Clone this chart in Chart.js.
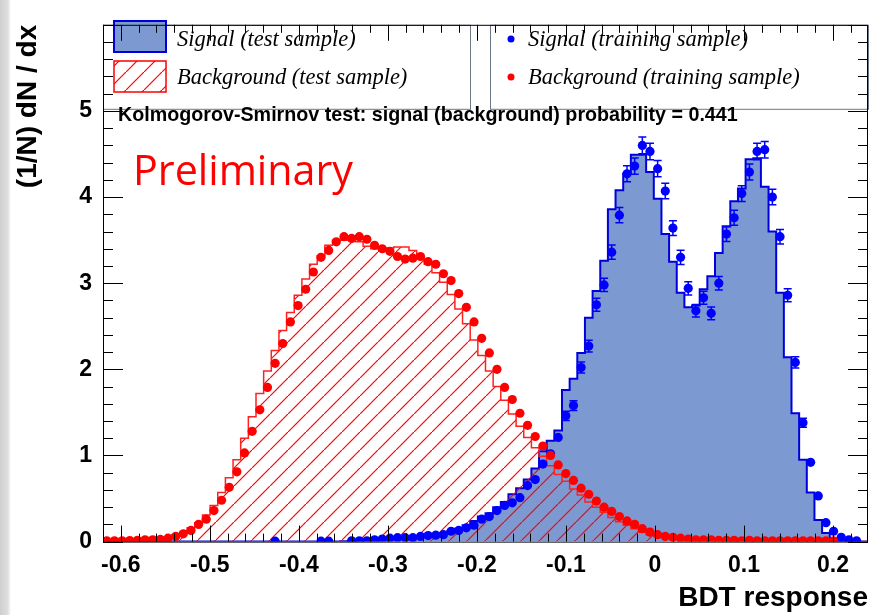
<!DOCTYPE html>
<html>
<head>
<meta charset="utf-8">
<script src="https://cdn.jsdelivr.net/npm/chart.js@4.4.0/dist/chart.umd.min.js"></script>
<style>
  html, body { margin: 0; padding: 0; background: #fff; }
  #wrap { width: 875px; height: 615px; }
</style>
</head>
<body>
<div id="wrap"><canvas id="myChart" width="875" height="615"></canvas></div>
<script>
// histogram range and binning (TMVA BDT output)
var xMin = -0.62;
var xMax = 0.2393;
var nBins = 100;

var xTickValues = [-0.6, -0.5, -0.4, -0.3, -0.2, -0.1, 0, 0.1, 0.2];
var xTickLabels = ["-0.6", "-0.5", "-0.4", "-0.3", "-0.2", "-0.1", "0", "0.1", "0.2"];
var yTickValues = [0, 1, 2, 3, 4, 5];
var yTickLabels = ["0", "1", "2", "3", "4", "5"];

// signal, test sample (filled histogram)
var sigTest = [
  0, 0, 0, 0, 0, 0, 0, 0, 0, 0,
  0, 0, 0, 0, 0, 0, 0, 0, 0, 0,
  0, 0, 0, 0, 0, 0, 0, 0, 0, 0,
  0, 0, 0.005, 0.01, 0.015, 0.02, 0.025, 0.03, 0.04, 0.045,
  0.05, 0.06, 0.065, 0.07, 0.08, 0.10, 0.12, 0.15, 0.19, 0.24,
  0.29, 0.33, 0.40, 0.46, 0.55, 0.62, 0.72, 0.85, 1.05, 1.17,
  1.29, 1.76, 1.89, 2.19, 2.60, 2.91, 3.26, 3.86, 4.08, 4.27,
  4.49, 4.49, 4.29, 3.98, 3.57, 3.25, 2.89, 2.72, 2.74, 2.93,
  3.08, 3.35, 3.66, 3.95, 4.10, 4.44, 4.45, 4.12, 3.60, 2.89,
  2.14, 1.49, 0.95, 0.57, 0.25, 0.10, 0.04, 0.01, 0, 0
];

// signal, training sample (points)
var sigTrain = [
  null, null, null, null, null, null, null, null, null, null,
  null, null, null, null, null, null, null, null, null, null,
  null, null, 0.005, null, null, null, null, null, 0.005, 0.005,
  null, null, 0.01, 0.01, 0.01, 0.02, 0.03, 0.04, 0.045, 0.045,
  0.045, 0.06, 0.07, 0.075, 0.08, 0.12, 0.13, 0.16, 0.19, 0.26,
  0.29, 0.36, 0.42, 0.45, 0.51, 0.65, 0.72, 0.90, 1.02, 1.21,
  1.46, 1.58, 2.02, 2.27, 2.75, 2.98, 3.36, 3.79, 4.27, 4.36,
  4.60, 4.53, 4.33, 4.07, 3.64, 3.30, 2.94, 2.68, 2.83, 2.65,
  3.00, 3.57, 3.76, 4.04, 4.29, 4.53, 4.55, 4.00, 3.54, 2.86,
  2.08, 1.38, 0.92, 0.53, 0.22, 0.12, 0.05, 0.02, 0.01, null
];

// background, test sample (hatched histogram)
var bkgTest = [
  0.01, 0.01, 0.01, 0.012, 0.015, 0.02, 0.02, 0.025, 0.035, 0.05,
  0.08, 0.11, 0.16, 0.22, 0.31, 0.42, 0.57, 0.74, 0.95, 1.20,
  1.45, 1.72, 1.98, 2.22, 2.45, 2.66, 2.86, 3.05, 3.22, 3.32,
  3.44, 3.50, 3.50, 3.50, 3.48, 3.43, 3.40, 3.39, 3.41, 3.42,
  3.42, 3.38, 3.30, 3.22, 3.12, 3.01, 2.87, 2.70, 2.53, 2.34,
  2.16, 1.98, 1.80, 1.64, 1.48, 1.34, 1.21, 1.09, 0.99, 0.88,
  0.78, 0.70, 0.61, 0.54, 0.46, 0.40, 0.34, 0.28, 0.23, 0.19,
  0.15, 0.11, 0.08, 0.06, 0.05, 0.04, 0.03, 0.02, 0.02, 0.02,
  0.015, 0.015, 0.015, 0.01, 0.015, 0.01, 0.01, 0.01, 0.01, 0.01,
  0.01, 0.01, 0.01, 0.01, 0.01, 0.01, 0, 0, 0, 0
];

// background, training sample (points)
var bkgTrain = [
  0.01, 0.01, 0.01, 0.012, 0.015, 0.02, 0.02, 0.025, 0.04, 0.06,
  0.09, 0.13, 0.20, 0.26, 0.36, 0.48, 0.63, 0.81, 1.03, 1.28,
  1.53, 1.79, 2.07, 2.30, 2.55, 2.74, 2.93, 3.13, 3.30, 3.38,
  3.48, 3.54, 3.52, 3.54, 3.51, 3.44, 3.40, 3.37, 3.31, 3.28,
  3.29, 3.31, 3.25, 3.22, 3.11, 3.03, 2.88, 2.72, 2.55, 2.36,
  2.19, 2.00, 1.79, 1.65, 1.49, 1.35, 1.22, 1.11, 1.00, 0.89,
  0.79, 0.71, 0.62, 0.55, 0.47, 0.40, 0.35, 0.29, 0.24, 0.20,
  0.15, 0.11, 0.08, 0.06, 0.05, 0.04, 0.03, 0.02, 0.02, 0.02,
  0.015, 0.015, 0.015, 0.01, 0.015, 0.01, 0.01, 0.01, 0.01, 0.01,
  0.01, 0.01, 0.01, 0.01, 0.01, 0.01, null, null, null, null
];

var binW = (xMax - xMin) / nBins;

// outline of a histogram: points at the bin low edges, drawn with stepped lines
function histLine(vals) {
  var pts = [{ x: xMin, y: 0 }];
  for (var i = 0; i < vals.length; i++) {
    pts.push({ x: xMin + i * binW, y: vals[i] });
  }
  pts.push({ x: xMax, y: vals[vals.length - 1] });
  pts.push({ x: xMax, y: 0 });
  return pts;
}

function binPoints(vals) {
  var pts = [];
  for (var i = 0; i < vals.length; i++) {
    if (vals[i] !== null) pts.push({ x: xMin + (i + 0.5) * binW, y: vals[i] });
  }
  return pts;
}

function hatchPattern() {
  var c = document.createElement("canvas");
  c.width = 18;
  c.height = 18;
  var g = c.getContext("2d");
  g.strokeStyle = "#ff0000";
  g.lineWidth = 1.2;
  g.beginPath();
  g.moveTo(-2, 20); g.lineTo(20, -2);
  g.stroke();
  return g.createPattern(c, "repeat");
}

var hatch = hatchPattern();
var sigFill = "#7d99d1";
var sigLine = "#0000dd";

var rootStyle = {
  id: "rootStyle",
  beforeDraw: function (chart) {
    var ctx = chart.ctx;
    ctx.save();
    ctx.fillStyle = "#ffffff";
    ctx.fillRect(0, 0, chart.width, chart.height);
    // grey slide background showing at the left edge
    var grd = ctx.createLinearGradient(0, 0, 11, 0);
    grd.addColorStop(0, "#cfcfcf");
    grd.addColorStop(0.7, "#dedede");
    grd.addColorStop(1, "#ffffff");
    ctx.fillStyle = grd;
    ctx.fillRect(0, 0, 11, chart.height);
    ctx.restore();
  },
  afterDatasetsDraw: function (chart) {
    // statistical error bars on the signal training points
    var ctx = chart.ctx;
    var ys = chart.scales.y;
    var meta = chart.getDatasetMeta(1);
    ctx.save();
    ctx.strokeStyle = "#0000ff";
    ctx.lineWidth = 1.5;
    meta.data.forEach(function (pt, k) {
      var v = chart.data.datasets[1].data[k].y;
      var e = 0.045 * Math.sqrt(v);
      var yHi = ys.getPixelForValue(v + e);
      var yLo = ys.getPixelForValue(v - e);
      if (yLo - yHi < 9) return;
      ctx.beginPath();
      ctx.moveTo(pt.x, yHi); ctx.lineTo(pt.x, yLo);
      ctx.moveTo(pt.x - 4, yHi); ctx.lineTo(pt.x + 4, yHi);
      ctx.moveTo(pt.x - 4, yLo); ctx.lineTo(pt.x + 4, yLo);
      ctx.stroke();
    });
    ctx.restore();
  },
  afterDraw: function (chart) {
    var ctx = chart.ctx;
    var a = chart.chartArea;
    var xs = chart.scales.x;
    var ys = chart.scales.y;
    ctx.save();

    // legend boxes
    ctx.fillStyle = "#ffffff";
    ctx.strokeStyle = "#6c7886";
    ctx.lineWidth = 1;
    ctx.fillRect(a.left, a.top, 367, 84);
    ctx.strokeRect(a.left + 0.5, a.top + 0.5, 367, 84);
    ctx.fillRect(490, a.top, a.right - 490, 84);
    ctx.strokeRect(490.5, a.top + 0.5, a.right - 490, 84);

    ctx.fillStyle = sigFill;
    ctx.fillRect(114, 21, 52, 31);
    ctx.strokeStyle = sigLine;
    ctx.lineWidth = 2;
    ctx.strokeRect(114, 21, 52, 31);
    ctx.fillStyle = hatch;
    ctx.fillRect(114, 61, 52, 31);
    ctx.strokeStyle = "#ff0000";
    ctx.lineWidth = 1.5;
    ctx.strokeRect(114, 61, 52, 31);

    ctx.fillStyle = "#000000";
    ctx.font = "italic 22.5px 'Liberation Serif'";
    ctx.textBaseline = "alphabetic";
    ctx.textAlign = "left";
    ctx.fillText("Signal (test sample)", 177, 46, 180);
    ctx.fillText("Background (test sample)", 177, 84, 235);
    ctx.fillText("Signal (training sample)", 528, 46, 225);
    ctx.fillText("Background (training sample)", 528, 84, 277);

    ctx.fillStyle = "#0000ff";
    ctx.beginPath(); ctx.arc(511, 39, 3.5, 0, 2 * Math.PI); ctx.fill();
    ctx.fillStyle = "#ff0000";
    ctx.beginPath(); ctx.arc(511, 77, 3.5, 0, 2 * Math.PI); ctx.fill();

    // frame and inward ticks on all four sides
    ctx.strokeStyle = "#000000";
    ctx.lineWidth = 1;
    ctx.strokeRect(a.left + 0.5, a.top + 0.5, a.right - a.left - 1, a.bottom - a.top);
    ctx.beginPath();
    for (var k = -31; k <= 11; k++) {
      var px = Math.round(xs.getPixelForValue(k * 0.02)) + 0.5;
      var len = (k % 5 === 0) ? 16 : 8;
      ctx.moveTo(px, a.bottom); ctx.lineTo(px, a.bottom - len);
      ctx.moveTo(px, a.top); ctx.lineTo(px, a.top + len);
    }
    for (var j = 0; j <= 30; j++) {
      var py = Math.round(ys.getPixelForValue(j * 0.2)) + 0.5;
      var ylen = (j % 5 === 0) ? 20 : 10;
      ctx.moveTo(a.left, py); ctx.lineTo(a.left + ylen, py);
      ctx.moveTo(a.right, py); ctx.lineTo(a.right - ylen, py);
    }
    ctx.stroke();

    // KS test result
    ctx.fillStyle = "#000000";
    ctx.font = "bold 19.7px 'Liberation Sans'";
    ctx.fillText("Kolmogorov-Smirnov test: signal (background) probability = 0.441", 118, 121, 622);

    // slide overlay
    ctx.fillStyle = "#ff0000";
    ctx.font = "42px 'Open Sans'";
    ctx.fillText("Preliminary", 133, 185, 220);
    ctx.restore();
  }
};

var ctx = document.getElementById("myChart").getContext("2d");

var graphData = {
  type: "line",
  data: {
    datasets: [
      {
        type: "scatter",
        label: "Background (training sample)",
        data: binPoints(bkgTrain),
        pointRadius: 4.6,
        pointBackgroundColor: "#ff0000",
        pointBorderWidth: 0,
        showLine: false,
        order: 0,
      },
      {
        type: "scatter",
        label: "Signal (training sample)",
        data: binPoints(sigTrain),
        pointRadius: 4.6,
        pointBackgroundColor: "#0000ff",
        pointBorderWidth: 0,
        showLine: false,
        order: 1,
      },
      {
        label: "Background (test sample)",
        data: histLine(bkgTest),
        stepped: "after",
        borderColor: "#ff2020",
        borderWidth: 1.5,
        backgroundColor: hatch,
        fill: { target: "origin" },
        pointRadius: 0,
        order: 2,
      },
      {
        label: "Signal (test sample)",
        data: histLine(sigTest),
        stepped: "after",
        borderColor: sigLine,
        borderWidth: 2,
        backgroundColor: sigFill,
        fill: { target: "origin" },
        pointRadius: 0,
        order: 3,
      },
    ],
  },
  options: {
    responsive: false,
    animation: false,
    events: [],
    layout: { padding: { top: 15, right: 7, left: 0, bottom: 0 } },
    plugins: { legend: { display: false }, tooltip: { enabled: false } },
    scales: {
      x: {
        type: "linear",
        min: xMin,
        max: xMax,
        grid: { display: false, drawTicks: false },
        border: { display: false },
        afterBuildTicks: function (scale) {
          scale.ticks = xTickValues.map(function (v) { return { value: v }; });
        },
        afterFit: function (scale) { scale.height = 73.4; },
        ticks: {
          autoSkip: false,
          maxRotation: 0,
          padding: 10,
          color: "#000000",
          font: { family: "'Liberation Sans'", size: 23, weight: "bold" },
          callback: function (v) { return xTickLabels[xTickValues.indexOf(v)]; },
        },
        title: {
          display: true,
          text: "BDT response",
          align: "end",
          color: "#000000",
          font: { family: "'Liberation Sans'", size: 28, weight: "bold" },
          padding: { top: 0, bottom: 0 },
        },
      },
      y: {
        min: 0,
        max: 6,
        grid: { display: false, drawTicks: false },
        border: { display: false },
        afterBuildTicks: function (scale) {
          scale.ticks = yTickValues.map(function (v) { return { value: v }; });
        },
        afterFit: function (scale) { scale.width = 103; },
        ticks: {
          padding: 11,
          color: "#000000",
          font: { family: "'Liberation Sans'", size: 23, weight: "bold" },
          callback: function (v) { return yTickLabels[yTickValues.indexOf(v)]; },
        },
        title: {
          display: true,
          text: "(1/N) dN / dx",
          align: "end",
          color: "#000000",
          font: { family: "'Liberation Sans'", size: 28, weight: "bold" },
          padding: { top: 11, bottom: 0 },
        },
      },
    },
  },
  plugins: [rootStyle],
};

var myChart = new Chart(ctx, graphData);
</script>
</body>
</html>
